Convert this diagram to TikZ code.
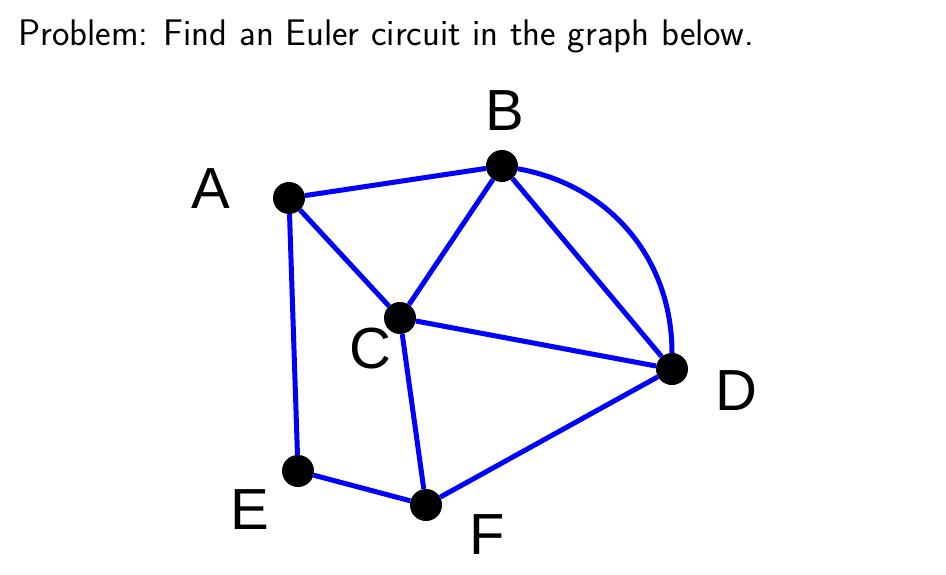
\documentclass[tikz,border=0pt]{standalone}
\usepackage{fontspec}
\newfontfamily\lblfont{Liberation Sans}
\usepackage{xcolor}
\usetikzlibrary{arrows.meta}

\begin{document}
\begin{tikzpicture}[x=1pt,y=-1pt]
\tikzset{edge/.style={draw=blue,line width=5pt}}
\tikzstyle{vertex} =[circle, fill = black,inner sep=0pt,minimum size=32pt]
\tikzstyle{lbl} =[inner sep=0pt,font=\lblfont\fontsize{58}{60}\selectfont]
\useasboundingbox (0,0) rectangle (946,574);

\node[anchor=base west,inner sep=0pt,font=\sffamily\fontsize{37}{40}\selectfont](title) at (18,45){Problem: Find an Euler circuit in the graph below.};

\node[vertex](A) at (289,198){};
\node[vertex](B) at (502,166){};
\node[vertex](C) at (400,318){};
\node[vertex](D) at (672,369){};
\node[vertex](E) at (298,471){};
\node[vertex](F) at (426,505){};

\node[lbl](lA) at (211,189){A};
\node[lbl](lB) at (505,111){B};
\node[lbl](lC) at (370,349){C};
\node[lbl](lD) at (736,391){D};
\node[lbl](lE) at (250,510){E};
\node[lbl](lF) at (487,535){F};

\draw[edge] (A) -- (B);
\draw[edge] (A) -- (C);
\draw[edge] (A) -- (E);
\draw[edge] (B) -- (C);
\draw[edge] (B) -- (D);
\draw[edge] (B) to [out=-10,in=90] (D);
\draw[edge] (C) -- (D);
\draw[edge] (C) -- (F);
\draw[edge] (E) -- (F);
\draw[edge] (F) -- (D);
\end{tikzpicture}
\end{document}
